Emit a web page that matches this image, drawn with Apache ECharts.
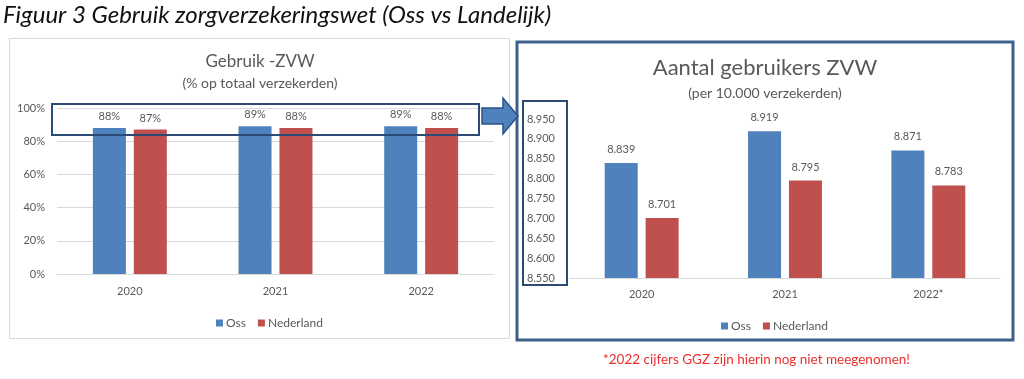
<!DOCTYPE html>
<html>
<head>
<meta charset="utf-8">
<script src="https://cdn.jsdelivr.net/npm/echarts@6/dist/echarts.min.js"></script>
<style>
html,body{margin:0;padding:0;background:#fff;}
#c{width:1024px;height:379px;}
</style>
</head>
<body>
<div id="c"></div>
<script>
// Left chart: usage % of insured
const leftCategories = ['2020', '2021', '2022'];
const leftOss = [88, 89, 89];
const leftNederland = [87, 88, 88];
const leftTicks = [0, 20, 40, 60, 80, 100];

// Right chart: users per 10.000 insured
const rightCategories = ['2020', '2021', '2022*'];
const rightOss = [8839, 8919, 8871];
const rightNederland = [8701, 8795, 8783];
const rightTicks = [8550, 8600, 8650, 8700, 8750, 8800, 8850, 8900, 8950];

const seriesNames = ['Oss', 'Nederland'];
const BLUE = '#4f81bd', RED = '#c0504d', GRAY = '#595959';
const FONT = 'Lato, "Liberation Sans", sans-serif';

function nl(v) { return (v / 1000).toFixed(3); }

const chart = echarts.init(document.getElementById('c'), null, {renderer: 'canvas'});

const labelStyle = {show: true, position: 'top', distance: 6, color: GRAY, fontSize: 11, fontFamily: FONT};

const option = {
  animation: false,
  textStyle: {fontFamily: FONT},
  color: [BLUE, RED],
  legend: [
    {data: seriesNames, left: 211, top: 312, itemWidth: 7, itemHeight: 7, itemGap: 12, icon: 'rect',
     textStyle: {color: GRAY, fontSize: 12, fontFamily: FONT, padding: [0, 0, 0, -2]}, selectedMode: false},
    {data: seriesNames, left: 716, top: 315, itemWidth: 7, itemHeight: 7, itemGap: 12, icon: 'rect',
     textStyle: {color: GRAY, fontSize: 12, fontFamily: FONT, padding: [0, 0, 0, -2]}, selectedMode: false}
  ],
  grid: [
    {left: 57, right: 530, top: 108, bottom: 105},
    {left: 570, right: 24, top: 119, bottom: 101}
  ],
  xAxis: [
    {type: 'category', gridIndex: 0, data: leftCategories,
     axisLine: {lineStyle: {color: '#d9d9d9'}}, axisTick: {show: false},
     axisLabel: {color: GRAY, fontSize: 11, margin: 12, fontFamily: FONT}},
    {type: 'category', gridIndex: 1, data: rightCategories,
     axisLine: {lineStyle: {color: '#d9d9d9'}}, axisTick: {show: false},
     axisLabel: {color: GRAY, fontSize: 11, margin: 11, fontFamily: FONT}}
  ],
  yAxis: [
    {type: 'value', gridIndex: 0, min: leftTicks[0], max: leftTicks[leftTicks.length - 1], interval: 20,
     axisLine: {show: false}, axisTick: {show: false},
     splitLine: {lineStyle: {color: '#d9d9d9'}},
     axisLabel: {formatter: '{value}%', color: GRAY, fontSize: 11, margin: 12, fontFamily: FONT}},
    {type: 'value', gridIndex: 1, min: rightTicks[0], max: rightTicks[rightTicks.length - 1], interval: 50,
     axisLine: {show: false}, axisTick: {show: false},
     splitLine: {show: false},
     axisLabel: {formatter: nl, color: GRAY, fontSize: 11, margin: 15, fontFamily: FONT}}
  ],
  series: [
    {name: seriesNames[0], type: 'bar', xAxisIndex: 0, yAxisIndex: 0, data: leftOss, barWidth: 33, barGap: '24%',
     label: Object.assign({}, labelStyle, {formatter: '{c}%'})},
    {name: seriesNames[1], type: 'bar', xAxisIndex: 0, yAxisIndex: 0, data: leftNederland, barWidth: 33, barGap: '24%',
     label: Object.assign({}, labelStyle, {formatter: '{c}%'})},
    {name: seriesNames[0], type: 'bar', xAxisIndex: 1, yAxisIndex: 1, data: rightOss, barWidth: 33, barGap: '24%',
     label: Object.assign({}, labelStyle, {distance: 8, formatter: p => nl(p.value)})},
    {name: seriesNames[1], type: 'bar', xAxisIndex: 1, yAxisIndex: 1, data: rightNederland, barWidth: 33, barGap: '24%',
     label: Object.assign({}, labelStyle, {distance: 8, formatter: p => nl(p.value)})}
  ],
  graphic: [
    {type: 'text', left: 3, top: 3, style: {text: 'Figuur 3 Gebruik zorgverzekeringswet (Oss vs Landelijk)',
      fill: '#111', font: 'italic 24px ' + FONT}},
    {type: 'rect', shape: {x: 9.5, y: 38.5, width: 500, height: 300}, style: {fill: 'none', stroke: '#d9d9d9', lineWidth: 1}},
    {type: 'text', x: 260, y: 62, style: {text: 'Gebruik -ZVW', fill: GRAY, font: '17px ' + FONT, align: 'center', verticalAlign: 'middle'}},
    {type: 'text', x: 260, y: 83, style: {text: '(% op totaal verzekerden)', fill: GRAY, font: '14px ' + FONT, align: 'center', verticalAlign: 'middle'}},
    {type: 'rect', shape: {x: 517, y: 42, width: 496, height: 298}, style: {fill: 'none', stroke: '#3f5f8c', lineWidth: 3}, z: 10},
    {type: 'text', x: 765, y: 68, style: {text: 'Aantal gebruikers ZVW', fill: GRAY, font: '22px ' + FONT, align: 'center', verticalAlign: 'middle'}},
    {type: 'text', x: 765, y: 93, style: {text: '(per 10.000 verzekerden)', fill: GRAY, font: '14px ' + FONT, align: 'center', verticalAlign: 'middle'}},
    {type: 'rect', shape: {x: 52, y: 104, width: 427, height: 31}, style: {fill: 'none', stroke: '#2b4a75', lineWidth: 2}, z: 10},
    {type: 'rect', shape: {x: 523, y: 101, width: 44, height: 184}, style: {fill: 'none', stroke: '#2b4a75', lineWidth: 2}, z: 10},
    {type: 'polygon', shape: {points: [[482, 108], [503, 108], [503, 98], [518, 116], [503, 134], [503, 124], [482, 124]]},
     style: {fill: BLUE, stroke: '#2f528f', lineWidth: 1.5}, z: 11},
    {type: 'text', left: 603, top: 353, style: {text: '*2022 cijfers GGZ zijn hierin nog niet meegenomen!',
      fill: '#e8312f', font: '13.5px ' + FONT}}
  ]
};
chart.setOption(option);
</script>
</body>
</html>
